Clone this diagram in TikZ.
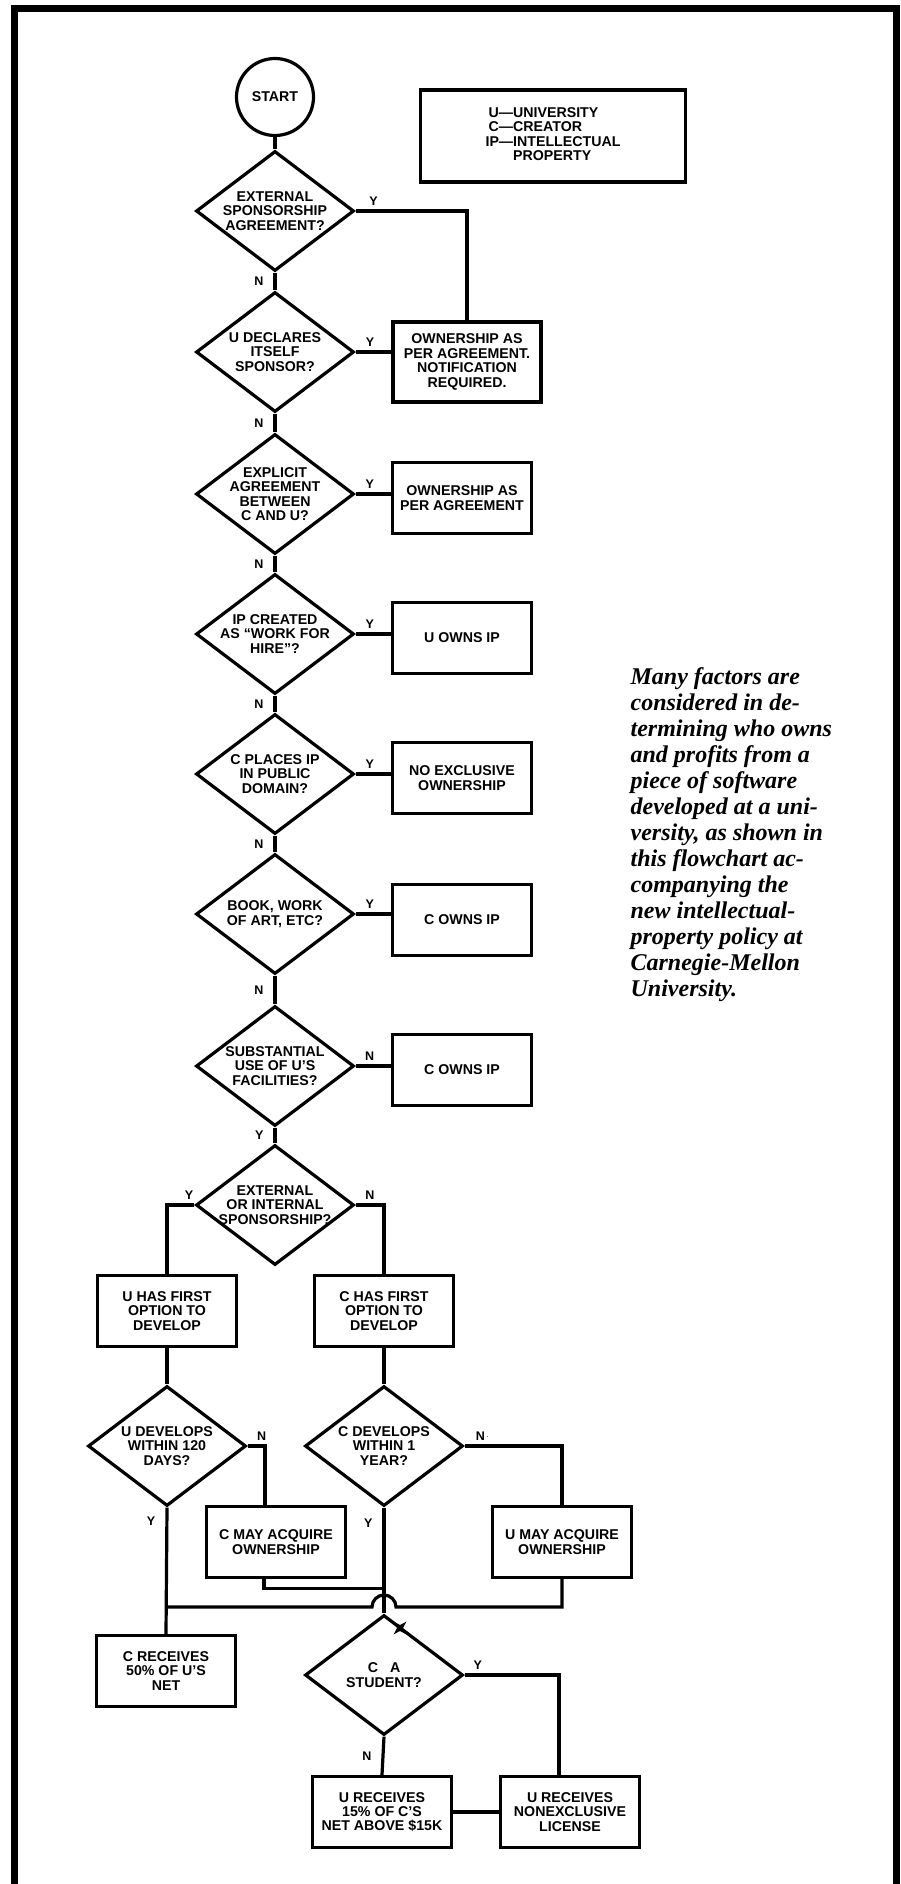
\documentclass[tikz,border=0pt]{standalone}
\usepackage{fontspec}
\setmainfont{Liberation Sans}
\newfontfamily\capfont{Liberation Serif}
\usetikzlibrary{shapes.geometric,calc}

\begin{document}
\begin{tikzpicture}[
    x=1pt, y=-1pt,                  % pixel grid, y runs down
    line width=3.2pt,
    every node/.style={font=\fontsize{14.2}{14.4}\selectfont\bfseries, align=center},
    decision/.style={draw, diamond, aspect=1.32, inner sep=-4pt,
                     minimum width=158pt, minimum height=120pt},
    outcome/.style={draw, rectangle, inner sep=0pt,
                    minimum width=139pt, minimum height=71pt},
    yn/.style={font=\fontsize{12.5}{12.5}\selectfont\bfseries, inner sep=1pt},
    caption/.style={font=\capfont\bfseries\itshape\fontsize{24}{26}\selectfont,
                    anchor=base west, inner sep=0pt},
 ]
    \useasboundingbox (0,0) rectangle (900,1884);
    % ~~~ frame ~~~~~~~~~~~~~~~~~~~~~~~~~~~~~~~~~~~~~
    \draw[line width=7pt] (14,1890) -- (14,9) -- (896,9) -- (896,1890);

    % ~~~ start and key ~~~~~~~~~~~~~~~~~~~~~~~~~~~~~
    \node[draw, circle, minimum size=77pt, inner sep=0pt] (start) at (275,97) {START};
    \node[draw, rectangle, minimum width=265pt, minimum height=92pt] (key) at (553,136)
        {\begin{tabular}{@{}r@{}l@{}}
            U---&UNIVERSITY\\
            C---&CREATOR\\
            IP---&INTELLECTUAL\\
                 &PROPERTY
         \end{tabular}};

    % ~~~ main column of questions ~~~~~~~~~~~~~~~~~~
    \foreach \n/\y/\q in {1/211/{EXTERNAL\\SPONSORSHIP\\AGREEMENT?},
                          2/352/{U DECLARES\\ITSELF\\SPONSOR?},
                          3/494/{EXPLICIT\\AGREEMENT\\BETWEEN\\C AND U?},
                          4/634/{IP CREATED\\AS ``WORK FOR\\HIRE''?},
                          5/774/{C PLACES IP\\IN PUBLIC\\DOMAIN?},
                          6/914/{BOOK, WORK\\OF ART, ETC?},
                          7/1066/{SUBSTANTIAL\\USE OF U'S\\FACILITIES?},
                          8/1205/{EXTERNAL\\OR INTERNAL\\SPONSORSHIP?}}
        \node[decision] (d\n) at (275,\y) {\q};

    % ~~~ outcomes on the right ~~~~~~~~~~~~~~~~~~~~~
    \node[outcome, minimum width=148pt, minimum height=80pt] (b1) at (467,362)
        {OWNERSHIP AS\\PER AGREEMENT.\\NOTIFICATION\\REQUIRED.};
    \foreach \n/\y/\r in {2/498/{OWNERSHIP AS\\PER AGREEMENT},
                          3/638/{U OWNS IP},
                          4/778/{NO EXCLUSIVE\\OWNERSHIP},
                          5/920/{C OWNS IP},
                          6/1070/{C OWNS IP}}
        \node[outcome] (b\n) at (462,\y) {\r};

    % ~~~ lower part ~~~~~~~~~~~~~~~~~~~~~~~~~~~~~~~~
    \node[outcome] (u1) at (167,1311) {U HAS FIRST\\OPTION TO\\DEVELOP};
    \node[outcome] (c1) at (384,1311) {C HAS FIRST\\OPTION TO\\DEVELOP};
    \node[decision] (d9)  at (167,1446) {U DEVELOPS\\WITHIN 120\\DAYS?};
    \node[decision] (d10) at (384,1446) {C DEVELOPS\\WITHIN 1\\YEAR?};
    \node[outcome] (cmay) at (276,1542) {C MAY ACQUIRE\\OWNERSHIP};
    \node[outcome] (umay) at (562,1542) {U MAY ACQUIRE\\OWNERSHIP};
    \node[outcome] (cr)   at (166,1671) {C RECEIVES\\50\% OF U'S\\NET};
    \node[decision] (d11) at (384,1675) {C\hspace{12pt}A\\STUDENT?};
    \node[outcome] (us)   at (382,1812) {U RECEIVES\\15\% OF C'S\\NET ABOVE \$15K};
    \node[outcome] (un)   at (570,1812) {U RECEIVES\\NONEXCLUSIVE\\LICENSE};

    % ~~~ caption ~~~~~~~~~~~~~~~~~~~~~~~~~~~~~~~~~~~
    \foreach \t [count=\i] in {Many factors are, considered in de-,
                               termining who owns, and profits from a,
                               piece of software, developed at a uni-,
                               {versity, as shown in}, this flowchart ac-,
                               companying the, new intellectual-,
                               property policy at, Carnegie-Mellon,
                               University.}
        \node[caption] (cap\i) at (629,{684+26*(\i-1)}) {\t};

    % ~~~ connectors, main column ~~~~~~~~~~~~~~~~~~~
    \draw (start) -- (d1);
    \foreach \a/\b in {1/2,2/3,3/4,4/5,5/6,6/7}
        \draw (d\a.south) -- node[yn, left=9pt] (n\a) {N} (d\b.north);
    \draw (d7.south) -- node[yn, left=9pt] (n7) {Y} (d8.north);
    \draw (d1.east) -| node[yn, above=3pt, pos=.08] (y1) {Y} (b1.north);
    \foreach \a/\b in {2/1,3/2,4/3,5/4,6/5}
        \draw (d\a.east) -- node[yn, above=3pt, pos=.4] (y\a) {Y} (d\a.east -| b\b.west);
    \draw (d7.east) -- node[yn, above=3pt, pos=.4] (y7) {N} (d7.east -| b6.west);

    % ~~~ connectors, lower part ~~~~~~~~~~~~~~~~~~~~
    \draw (d8.west) -| node[yn, above=3pt, pos=.1] (y8) {Y} (u1.north);
    \draw (d8.east) -| node[yn, above=3pt, pos=.25] (n8) {N} (c1.north);
    \draw (u1) -- (d9);
    \draw (c1) -- (d10);
    \draw (d9.east) -| node[yn, above=3pt, pos=.4] (n9) {N} ($(cmay.north)+(-11,0)$);
    \draw (d10.east) -| node[yn, above=3pt, pos=.09] (n10)
        {N\,\raisebox{3pt}{\tiny.}} (umay.north);
    \draw (d9.south) -- node[yn, left=9pt, pos=.11] (y9) {Y} (cr.north);
    \draw (d10.south) -- node[yn, left=9pt, pos=.15] (y10) {Y} (d11.north);
    \coordinate (cjoin) at ($(d10.south)+(0,81)$);
    \coordinate (ujoin) at (d9.south |- 0,1607);
    \draw ($(cmay.south)+(-12,0)$) |- (cjoin);
    \draw (umay.south) |- (396,1607)
        arc[start angle=0, end angle=-180, radius=12] -- (ujoin);
    \draw (d11.south) -- node[yn, left=9pt] (n11) {N} (us.north);
    \draw (d11.east) -| node[yn, above=3pt, pos=.07] (y11) {Y} ($(un.north)+(-11,0)$);
    \draw (us) -- (un);

    % ~~~ blot on the student box ~~~~~~~~~~~~~~~~~~~
    \fill (400,1628) +(45:9) -- +(90:3) -- +(135:9) -- +(180:3)
        -- +(225:9) -- +(270:3) -- +(315:9) -- +(0:3) -- cycle;
\end{tikzpicture}
\end{document}
